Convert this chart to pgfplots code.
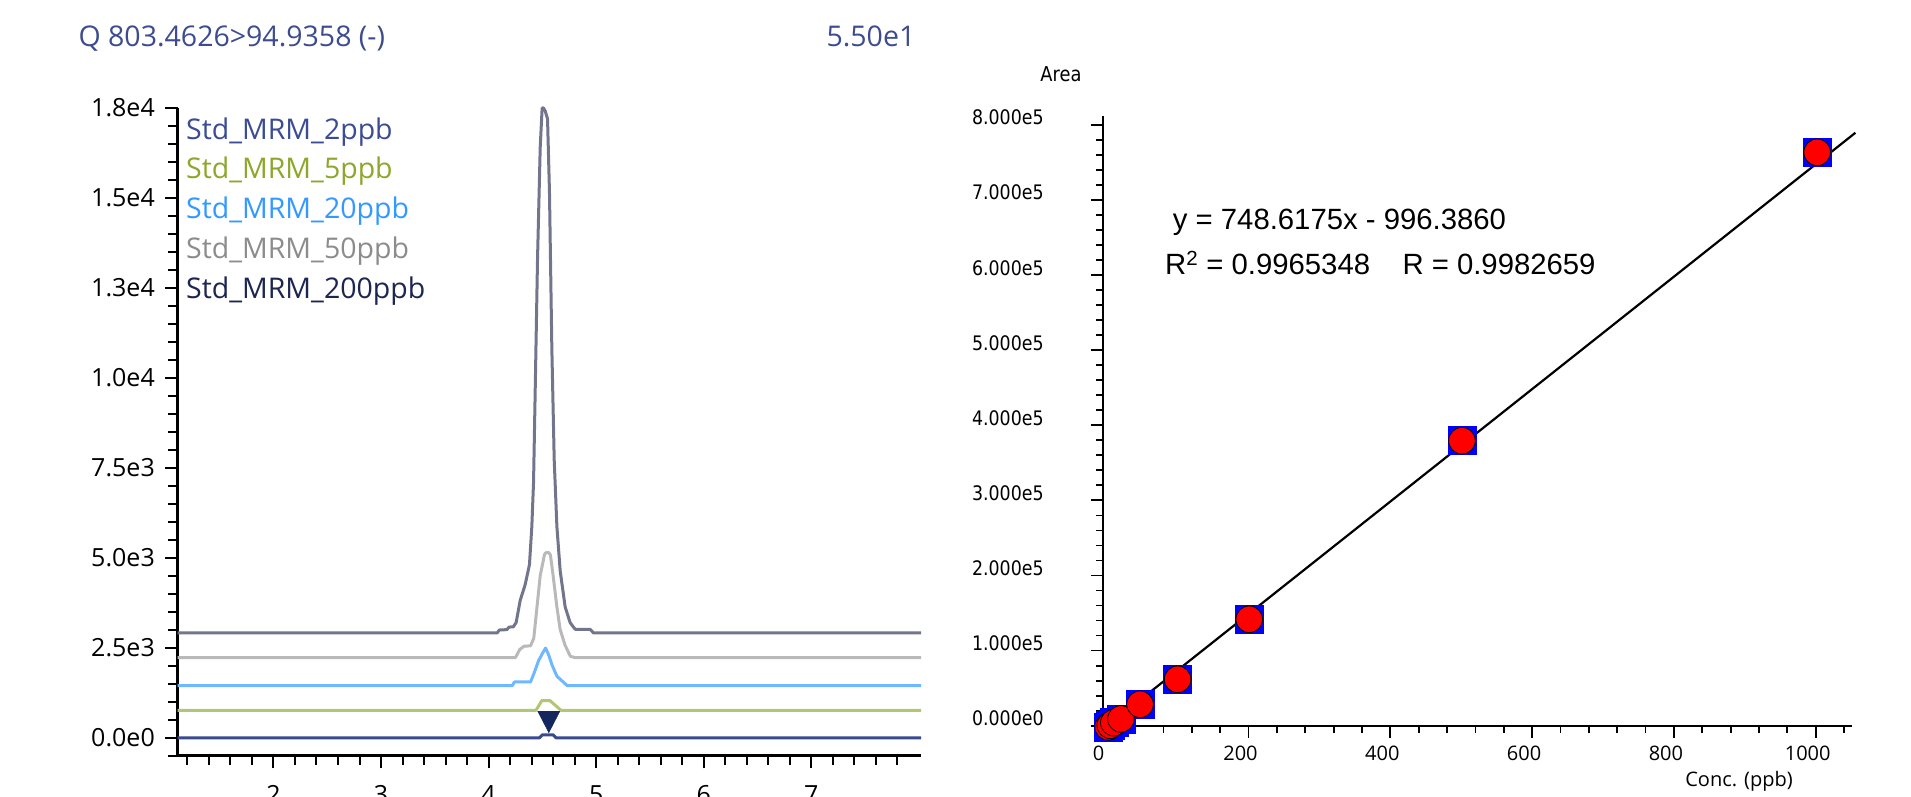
\documentclass[border=0pt]{standalone}
\usepackage{pgfplots}
\pgfplotsset{compat=1.18}
\usepackage{fontspec}
\setmainfont{Open Sans}
\newfontfamily\arialf{Liberation Sans}
\newfontfamily\tahf[FakeStretch=0.87]{DejaVu Sans}
\definecolor{titlec}{HTML}{3D4C8E}
\definecolor{c2}{HTML}{3A4A8F}
\definecolor{c2t}{HTML}{3C4C94}
\definecolor{c5}{HTML}{B3C674}
\definecolor{c5t}{HTML}{8CA72A}
\definecolor{c20}{HTML}{6EB8FF}
\definecolor{c20t}{HTML}{3399FF}
\definecolor{c50}{HTML}{B9B9B9}
\definecolor{c50t}{HTML}{8C8C8C}
\definecolor{c200}{HTML}{72758C}
\definecolor{c200t}{HTML}{1D2552}
\definecolor{tri}{HTML}{13275E}
\begin{document}
\begin{tikzpicture}
\begin{axis}[
  at={(177.5pt,41pt)}, anchor=south west, scale only axis,
  width=743.5pt, height=648pt,
  xmin=1.108, xmax=8.02, ymin=-500, ymax=17500,
  axis x line*=bottom, axis y line*=left,
  axis line style={-, line width=3pt, black},
  tick align=outside,
  major tick length=12.5pt, minor tick length=9pt,
  tick style={line width=2pt, black},
  xtick={2,3,4,5,6,7}, xticklabels={2,3,4,5,6,7},
  minor xtick={1.2,1.4,...,7.8},
  ytick={0,2500,...,17500},
  yticklabels={0.0e0,2.5e3,5.0e3,7.5e3,1.0e4,1.3e4,1.5e4,1.8e4},
  minor ytick={-500,0,...,17500},
  scaled y ticks=false,
  tick label style={font=\fontsize{25}{30}\selectfont, inner sep=0pt},
  yticklabel style={anchor=east, xshift=-10pt},
  xticklabel style={anchor=north, yshift=-17pt},
  clip=false,
]
\addplot[c2, line width=3pt, line join=round] coordinates {(1.11,0)(4.47,0)(4.50,90)(4.60,90)(4.63,0)(8.02,0)};
\addplot[c5, line width=3pt, line join=round] coordinates {(1.11,765)(4.44,765)(4.495,1040)(4.57,1040)(4.675,765)(8.02,765)};
\addplot[c20, line width=3pt, line join=round] coordinates {(1.11,1455)(4.22,1455)(4.24,1556)(4.39,1556)(4.42,1780)(4.465,2150)(4.51,2400)(4.53,2497)(4.555,2336)(4.59,2028)(4.635,1717)(4.68,1594)(4.73,1455)(8.02,1455)};
\addplot[c50, line width=3pt, line join=round] coordinates {(1.11,2235)(4.25,2235)(4.29,2460)(4.33,2550)(4.39,2560)(4.42,2770)(4.45,3640)(4.48,4510)(4.52,5100)(4.535,5150)(4.56,5150)(4.575,5080)(4.60,4510)(4.635,3640)(4.665,3020)(4.71,2585)(4.76,2270)(4.80,2235)(8.02,2235)};
\addplot[c200, line width=3pt, line join=round] coordinates {(1.11,2920)(4.08,2920)(4.10,3000)(4.17,3010)(4.19,3080)(4.23,3090)(4.256,3205)(4.294,3825)(4.34,4258)(4.38,4817)(4.402,5872)(4.418,7111)(4.433,9592)(4.455,13311)(4.48,16411)(4.498,17500)(4.51,17500)(4.526,17420)(4.548,17200)(4.566,15172)(4.588,10831)(4.61,7731)(4.635,5872)(4.666,4633)(4.712,3639)(4.758,3205)(4.805,3019)(4.944,3019)(4.975,2920)(8.02,2920)};
\addplot[only marks, mark=triangle*, mark size=12.8pt, mark options={rotate=180, yscale=1.12, fill=tri, draw=tri}] coordinates {(4.56,545)};
\end{axis}
\begin{axis}[
  at={(1103.3pt,71.3pt)}, anchor=south west, scale only axis,
  width=749pt, height=609.8pt,
  xmin=-4.8, xmax=1051.6, ymin=0, ymax=812000,
  axis x line*=bottom, axis y line*=left,
  axis line style={-, line width=2pt, black},
  tick align=outside, major tick length=12.5pt, minor tick length=7.5pt,
  tick style={line width=1.8pt, black},
  xtick={0,200,...,1000}, xticklabels={0,200,400,600,800,1000},
  minor xtick={40,80,...,1040},
  ytick={0,100000,...,800000},
  yticklabels={0.000e0,1.000e5,2.000e5,3.000e5,4.000e5,5.000e5,6.000e5,7.000e5,8.000e5},
  minor ytick={20000,40000,...,800000},
  scaled y ticks=false, scaled x ticks=false,
  xticklabel style={font=\fontsize{20}{24}\selectfont, inner sep=0pt, anchor=north, yshift=-8pt, xshift=-8pt},
  yticklabel style={font=\tahf\fontsize{20}{24}\selectfont, inner sep=0pt, anchor=base east, xshift=-47pt},
  clip=false,
]
\addplot[only marks, mark=square*, mark size=14pt, mark options={fill=blue, draw=blue}] coordinates {(2,-1500)(5,500)(10,4000)(20,9000)(47,28500)(100,61800)(201,141700)(501,379500)(1002,763500)};
\addplot[only marks, mark=*, mark size=13.3pt, mark options={fill=red, draw=black, line width=0.8pt}] coordinates {(2,-1500)(5,500)(10,4000)(20,9000)(47,28500)(100,61800)(201,141700)(501,379500)(1002,763500)};
\addplot[black, line width=2.2pt] coordinates {(0,-996.386)(1056,789544)};
\end{axis}
\node[anchor=base west, inner sep=0pt, text=titlec, font=\fontsize{28.5}{34}\selectfont] at (78.4pt,750.1pt) {Q 803.4626>94.9358 (-)};
\node[anchor=base east, inner sep=0pt, text=titlec, font=\fontsize{28.5}{34}\selectfont] at (915.5pt,750.1pt) {5.50e1};
\node[anchor=base west, inner sep=0pt, text=c2t, font=\fontsize{28.5}{34}\selectfont] at (186pt,657.7pt) {Std\_MRM\_2ppb};
\node[anchor=base west, inner sep=0pt, text=c5t, font=\fontsize{28.5}{34}\selectfont] at (186pt,618pt) {Std\_MRM\_5ppb};
\node[anchor=base west, inner sep=0pt, text=c20t, font=\fontsize{28.5}{34}\selectfont] at (186pt,578.7pt) {Std\_MRM\_20ppb};
\node[anchor=base west, inner sep=0pt, text=c50t, font=\fontsize{28.5}{34}\selectfont] at (186pt,538.7pt) {Std\_MRM\_50ppb};
\node[anchor=base west, inner sep=0pt, text=c200t, font=\fontsize{28.5}{34}\selectfont] at (186pt,498pt) {Std\_MRM\_200ppb};
\node[anchor=base west, inner sep=0pt, font=\arialf\fontsize{29.3}{35}\selectfont] at (1172.7pt,567.5pt) {y = 748.6175x - 996.3860};
\node[anchor=base west, inner sep=0pt, font=\arialf\fontsize{29.3}{35}\selectfont] at (1165pt,522pt) {R\textsuperscript{2} = 0.9965348};
\node[anchor=base west, inner sep=0pt, font=\arialf\fontsize{29.3}{35}\selectfont] at (1402.3pt,522pt) {R = 0.9982659};
\node[anchor=base, inner sep=0pt, font=\tahf\fontsize{20.5}{24}\selectfont] at (1061pt,715.5pt) {Area};
\node[anchor=base, inner sep=0pt, font=\fontsize{20}{24}\selectfont] at (1739pt,10pt) {Conc. (ppb)};
\pgfresetboundingbox
\useasboundingbox (0pt,0pt) rectangle (1911pt,797pt);
\end{tikzpicture}
\end{document}
